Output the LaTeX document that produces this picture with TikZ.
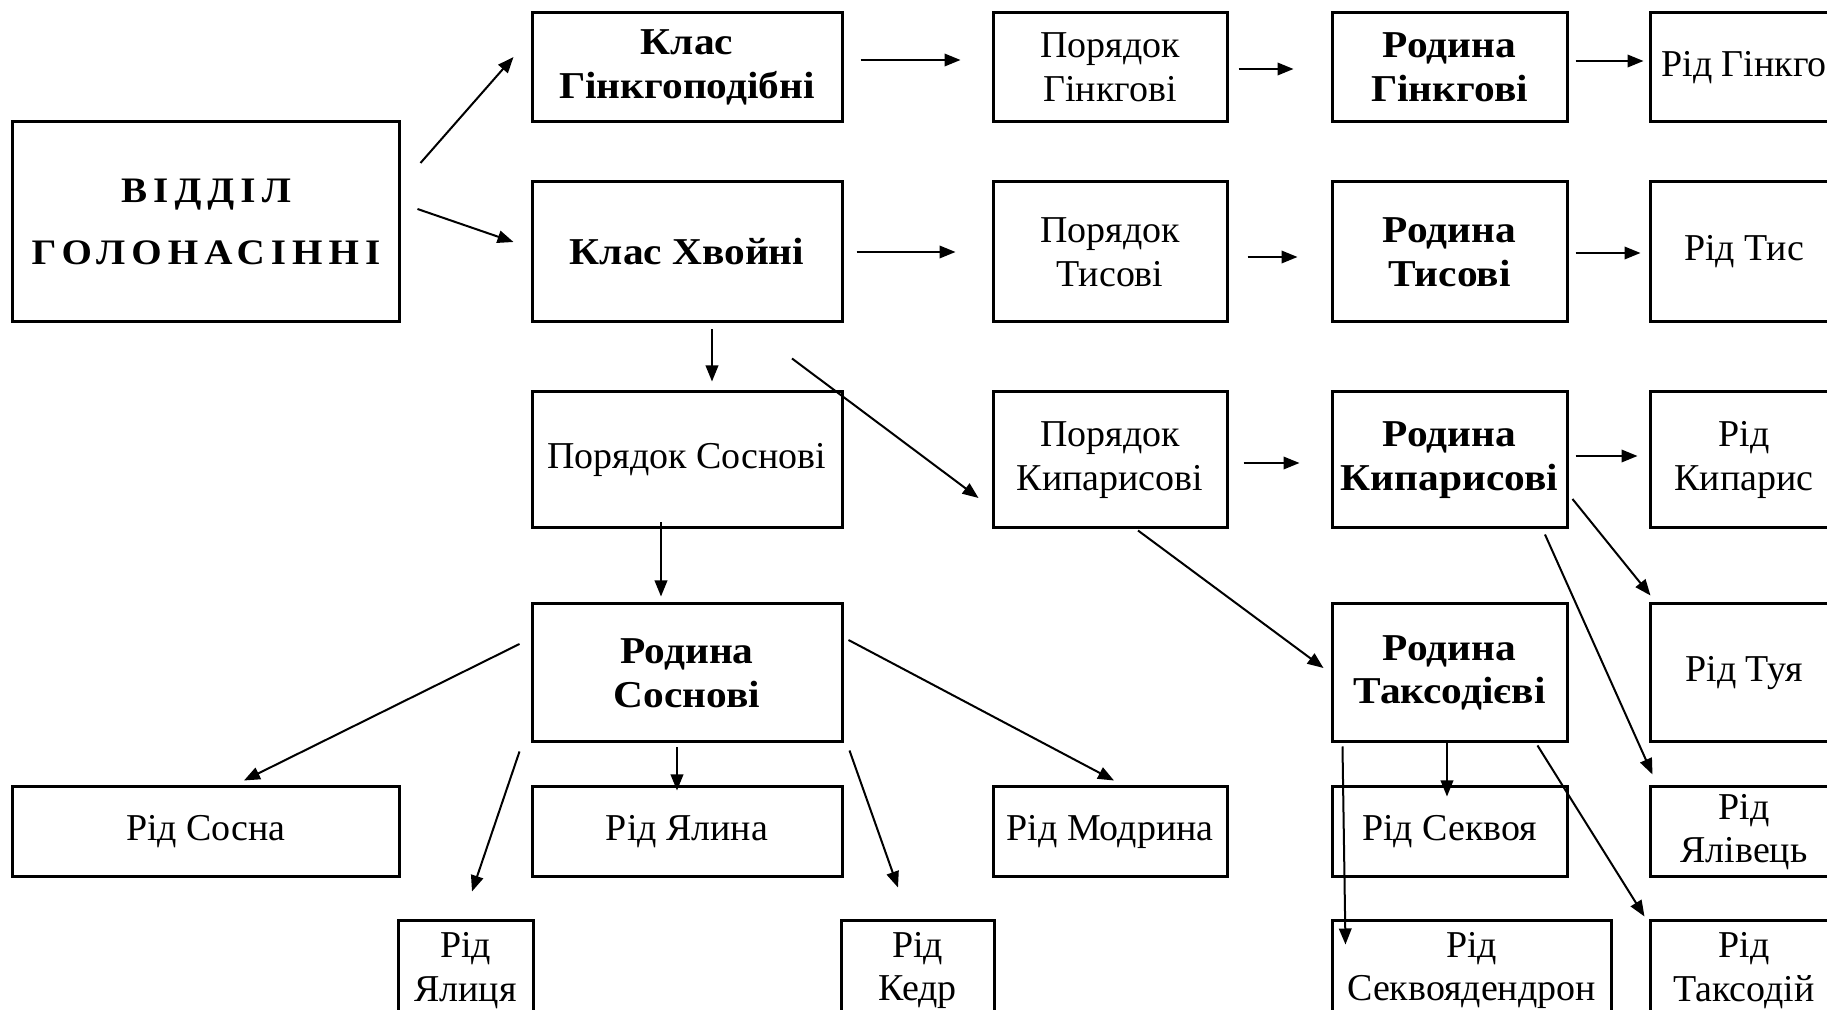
\documentclass[tikz,border=0pt]{standalone}
\usepackage{fontspec}
\setmainfont{Liberation Serif}[BoldFeatures={FakeStretch=1.09}]
\newfontfamily\vidfont{Liberation Serif}[LetterSpace=17, BoldFeatures={FakeStretch=1.09}]
\usepackage{tikz}
\usetikzlibrary{calc,arrows.meta}
\newcommand{\txtsize}{\fontsize{10.8pt}{12.4pt}\selectfont}

\begin{document}
\begin{tikzpicture}[x=0.1mm, y=-0.1mm, %1 unit = 1 px of the page, y runs down
	box/.style={draw, line width=0.3mm, inner sep=0pt, align=center, font=\txtsize},
	bbox/.style={box, font=\txtsize\bfseries},
	vidbox/.style={box, font=\vidfont\bfseries\fontsize{10.2pt}{17.6pt}\selectfont},
	arr/.style={line width=0.2mm, -{Triangle[length=1.6mm,width=1.25mm]}}]
	\path[use as bounding box, clip] (0,0) rectangle (1827,1010);
	% boxes
	\node[vidbox, minimum width=38.8mm, minimum height=20mm] (vid) at (206,222) {ВІДДІЛ\\ГОЛОНАСІННІ};
	\node[bbox, minimum width=31mm, minimum height=10.9mm] (klgin) at (687,67.5) {Клас\\Гінкгоподібні};
	\node[bbox, minimum width=31mm, minimum height=14mm] (klhv) at (687,252) {Клас Хвойні};
	\node[box, minimum width=23.4mm, minimum height=10.9mm] (porgin) at (1110,67.5) {Порядок\\Гінкгові};
	\node[box, minimum width=23.4mm, minimum height=14mm] (portys) at (1110,252) {Порядок\\Тисові};
	\node[box, minimum width=31mm, minimum height=13.6mm] (porsos) at (687,460) {Порядок Соснові};
	\node[box, minimum width=23.4mm, minimum height=13.6mm] (porkyp) at (1110,460) {Порядок\\Кипарисові};
	\node[bbox, minimum width=23.5mm, minimum height=10.9mm] (rodgin) at (1449.5,67.5) {Родина\\Гінкгові};
	\node[bbox, minimum width=23.5mm, minimum height=14mm] (rodtys) at (1449.5,252) {Родина\\Тисові};
	\node[bbox, minimum width=23.5mm, minimum height=13.6mm] (rodkyp) at (1449.5,460) {Родина\\Кипарисові};
	\node[bbox, minimum width=31mm, minimum height=13.8mm] (rodsos) at (687,673) {Родина\\Соснові};
	\node[bbox, minimum width=23.5mm, minimum height=13.8mm] (rodtaks) at (1449.5,673) {Родина\\Таксодієві};
	\node[box, minimum width=18.8mm, minimum height=10.9mm] (ridgin) at (1744,67.5) {Рід Гінкго};
	\node[box, minimum width=18.8mm, minimum height=14mm] (ridtys) at (1744,252) {Рід Тис};
	\node[box, minimum width=18.8mm, minimum height=13.6mm] (ridkyp) at (1744,460) {Рід\\Кипарис};
	\node[box, minimum width=18.8mm, minimum height=13.8mm] (ridtuya) at (1744,673) {Рід Туя};
	\node[box, minimum width=18.8mm, minimum height=9mm] (ridyaliv) at (1744,832) {Рід\\Ялівець};
	\node[box, minimum width=38.8mm, minimum height=9mm] (ridsosna) at (206,832) {Рід Сосна};
	\node[box, minimum width=31mm, minimum height=9mm] (ridyalyna) at (687,832) {Рід Ялина};
	\node[box, minimum width=23.4mm, minimum height=9mm] (ridmodr) at (1110,832) {Рід Модрина};
	\node[box, minimum width=23.5mm, minimum height=9mm] (ridsekv) at (1449.5,832) {Рід Секвоя};
	\node[box, minimum width=13.5mm, minimum height=9.9mm] (ridyalytsya) at (465.5,970.5) {Рід\\Ялиця};
	\node[box, minimum width=15.3mm, minimum height=9.9mm] (ridkedr) at (917.5,970.5) {Рід\\Кедр};
	\node[box, minimum width=27.9mm, minimum height=9.9mm] (ridsekvd) at (1471.5,970.5) {Рід\\Секвоядендрон};
	\node[box, minimum width=18.8mm, minimum height=9.9mm] (ridtaksod) at (1744,970.5) {Рід\\Таксодій};
	% arrows
	\draw[arr] ($(vid.east)+(19,-59)$) -- ($(klgin.west)+(-17,-10.5)$);
	\draw[arr] ($(vid.east)+(16,-13)$) -- ($(klhv.west)+(-17,-10)$);
	\draw[arr] ($(klgin.east)+(17,-7.5)$) -- ($(porgin.west)+(-31,-7.5)$);
	\draw[arr] ($(klhv.east)+(13,0)$) -- ($(portys.west)+(-36,0)$);
	\draw[arr] ($(klhv.south)+(25,6)$) -- ($(porsos.north)+(25,-9)$);
	\draw[arr] ($(klhv.south)+(105,35)$) -- ($(porkyp.west)+(-13,38)$);
	\draw[arr] ($(porgin.east)+(10,1.5)$) -- ($(rodgin.west)+(-37,1.5)$);
	\draw[arr] ($(portys.east)+(19,5)$) -- ($(rodtys.west)+(-33,5)$);
	\draw[arr] ($(porkyp.east)+(15,3)$) -- ($(rodkyp.west)+(-31,3)$);
	\draw[arr] ($(rodgin.east)+(7,-6.5)$) -- ($(ridgin.west)+(-5,-6.5)$);
	\draw[arr] ($(rodtys.east)+(7,1)$) -- ($(ridtys.west)+(-8,1)$);
	\draw[arr] ($(rodkyp.east)+(7,-4)$) -- ($(ridkyp.west)+(-11,-4)$);
	\draw[arr] ($(porsos.south)+(-26,-7)$) -- ($(rodsos.north)+(-26,-6)$);
	\draw[arr] ($(rodsos.west)+(-11,-29)$) -- ($(ridsosna.north)+(38,-5)$);
	\draw[arr] ($(rodsos.south west)+(-11,8)$) -- ($(ridyalytsya.north)+(6.5,-28)$);
	\draw[arr] ($(rodsos.south)+(-10,4)$) -- ($(ridyalyna.north)+(-10,5)$);
	\draw[arr] ($(rodsos.south east)+(6,7)$) -- ($(ridkedr.north)+(-19.5,-32)$);
	\draw[arr] ($(rodsos.east)+(5,-33)$) -- ($(ridmodr.north)+(4,-5)$);
	\draw[arr] ($(porkyp.south)+(28,1)$) -- ($(rodtaks.west)+(-7,-5)$);
	\draw[arr] ($(rodkyp.east)+(4,39)$) -- ($(ridtuya.north west)+(2,-7)$);
	\draw[arr] ($(rodkyp.south)+(95.5,5)$) -- ($(ridyaliv.north west)+(4,-11)$);
	\draw[arr] ($(rodtaks.south)+(-2.5,-1)$) -- ($(ridsekv.north)+(-2.5,11)$);
	\draw[arr] ($(rodtaks.south west)+(12,3)$) -- ($(ridsekvd.north west)+(15,25)$);
	\draw[arr] ($(rodtaks.south east)+(-31,2)$) -- ($(ridtaksod.north west)+(-4,-3)$);
\end{tikzpicture}
\end{document}
